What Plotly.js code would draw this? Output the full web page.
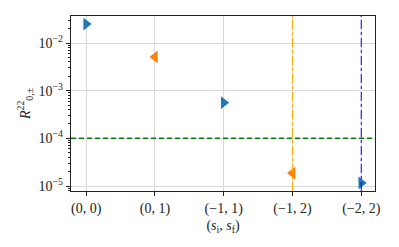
<!DOCTYPE html>
<html><head><meta charset="utf-8">
<script src="https://cdn.plot.ly/plotly-3.0.1.min.js"></script>
<style>html,body{margin:0;padding:0;background:#fff}#c{width:399px;height:247px}</style>
</head><body><div id="c"></div>
<script>
const categories = ['(0, 0)', '(0, 1)', '(\u22121, 1)', '(\u22121, 2)', '(\u22122, 2)'];
const blueCats = ['(0, 0)', '(\u22121, 1)', '(\u22122, 2)'];
const blueVals = [0.025, 5.6e-4, 1.16e-5];
const orangeCats = ['(0, 1)', '(\u22121, 2)'];
const orangeVals = [5.1e-3, 1.87e-5];
const threshold = 1e-4;
const vlineCats = ['(\u22121, 2)', '(\u22122, 2)'];
const vlineColors = ['#ffa500', '#0000ff'];
const yTickVals = [1e-5, 1e-4, 1e-3, 1e-2];
const yTickText = ['10<sup>\u22125</sup>', '10<sup>\u22124</sup>', '10<sup>\u22123</sup>', '10<sup>\u22122</sup>'];

// minor tick positions: 2..9 in each decade
const minorVals = [];
[-6, -5, -4, -3, -2].forEach(e => { for (let m = 2; m <= 9; m++) minorVals.push(m * Math.pow(10, e)); });

const font = {family: 'Liberation Serif, DejaVu Serif, serif', size: 14, color: '#222'};
const traces = [
  {x: blueCats, y: blueVals, type: 'scatter', mode: 'markers',
   marker: {symbol: 'triangle-right', size: 11, color: '#1f77b4'}},
  {x: orangeCats, y: orangeVals, type: 'scatter', mode: 'markers',
   marker: {symbol: 'triangle-left', size: 11, color: '#ff7f0e'}}
];
const shapes = [
  {type: 'line', xref: 'paper', x0: 0, x1: 1, yref: 'y', y0: threshold, y1: threshold,
   line: {color: '#008000', width: 1.5, dash: '5px,3px'}}
];
vlineCats.forEach((c, i) => {
  const xi = categories.indexOf(c);
  shapes.push({type: 'line', xref: 'x', x0: xi, x1: xi, yref: 'paper', y0: 0, y1: 1,
    line: {color: vlineColors[i], width: 1, dash: 'dashdot'}});
});
const layout = {
  width: 399, height: 247,
  margin: {l: 71, r: 24, t: 16, b: 56},
  showlegend: false,
  paper_bgcolor: '#fff', plot_bgcolor: '#fff',
  font: font,
  xaxis: {type: 'category', categoryorder: 'array', categoryarray: categories,
    range: [-0.22, 4.2], showgrid: true, gridcolor: '#d9d9d9', gridwidth: 1,
    ticks: 'outside', ticklen: 4, tickcolor: '#222', linecolor: '#222', linewidth: 1.2, mirror: true,
    zeroline: false, tickfont: font,
    title: {text: '(<i>s</i><sub>i</sub>, <i>s</i><sub>f</sub>)', font: font, standoff: 4}},
  yaxis: {type: 'log', range: [-5.105, -1.433], tickvals: yTickVals, ticktext: yTickText,
    showgrid: true, gridcolor: '#d9d9d9', gridwidth: 1,
    ticks: 'outside', ticklen: 4, tickcolor: '#222', linecolor: '#222', linewidth: 1.2, mirror: true,
    zeroline: false, tickfont: font,
    minor: {ticks: 'outside', ticklen: 2, tickcolor: '#222', showgrid: false, tickmode: 'array', tickvals: minorVals},
    title: {text: '<i>R</i><sup>22</sup><sub>0,\u00b1</sub>', font: font, standoff: 4}},
  shapes: shapes
};
Plotly.newPlot('c', traces, layout, {displayModeBar: false, staticPlot: true});
</script></body></html>
